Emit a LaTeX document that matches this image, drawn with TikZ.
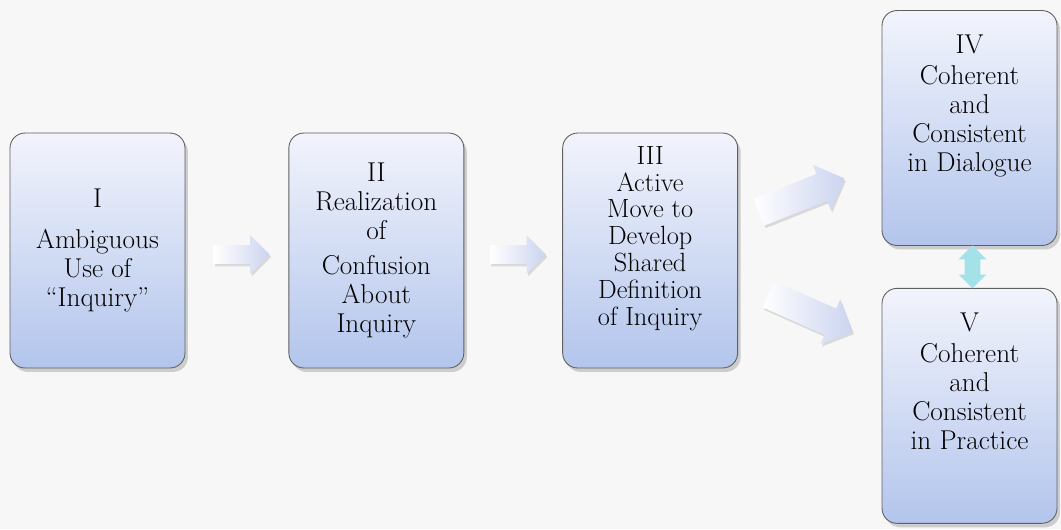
\documentclass[tikz,border=0pt]{standalone}
\usetikzlibrary{shapes.arrows, positioning, shadows, calc}
\definecolor{boxtop}{HTML}{F2F4FC}
\definecolor{boxbottom}{HTML}{B3C5EC}
\definecolor{arrowdark}{HTML}{CBD4F0}
\definecolor{linkcyan}{HTML}{A4E1E8}
\definecolor{paper}{HTML}{F7F7F7}
\begin{document}
\begin{tikzpicture}[x=0.02cm,y=-0.02cm,node distance=2cm,
    stage/.style={rectangle,rounded corners=0.3cm,draw=gray!75!black,line width=0.5pt,
        top color=boxtop,bottom color=boxbottom,minimum width=3.5cm,minimum height=4.7cm,
        align=center,font=\fontsize{15.5}{16.5}\selectfont,
        drop shadow={shadow xshift=0.6mm,shadow yshift=-0.8mm,opacity=0.35}},
    flatarrow/.style={single arrow,single arrow head extend=0.2cm,inner xsep=0pt,inner ysep=0.18cm,
        left color=white,right color=arrowdark,
        drop shadow={shadow xshift=0.3mm,shadow yshift=-0.5mm,opacity=0.25}},
    bigarrow/.style={flatarrow,inner ysep=0.28cm,minimum height=1.84cm}]

    % background
    \fill[paper] (0,0) rectangle (1061,529);

    % stages
    \node[stage] (1) at (97.5,250.5) {I\\[7pt] Ambiguous\\ Use of\\ “Inquiry”};
    \node[stage] (2) [right=2.06cm of 1] {II\\ Realization\\ of\\[3pt] Confusion\\ About\\ Inquiry};
    \node[stage,font=\fontsize{15}{15.3}\selectfont] (3) [right=1.96cm of 2]
        {III\\ Active\\ Move to\\ Develop\\ Shared\\ Definition\\ of Inquiry\\[0.05cm]};
    \node[stage] (4) at (969.5,128) {IV\\[1pt] Coherent\\ and\\ Consistent\\ in Dialogue\\[0.4cm]};
    \node[stage] (5) [below=0.84cm of 4] {V\\[1pt] Coherent\\ and\\ Consistent\\ in Practice\\[0.4cm]};

    % arrows between stages
    \node[flatarrow,minimum height=1.12cm] (12) at ($(1.east)!0.5!(2.west)+(0,4)$) {};
    \node[flatarrow,minimum height=1.12cm] (23) at ($(2.east)!0.5!(3.west)+(0,4)$) {};
    \node[bigarrow,rotate=21.6] (34) at (795,198) {};
    \node[bigarrow,rotate=-24] (35) at (804,310) {};
    \node[double arrow,double arrow head extend=0.12cm,inner xsep=0pt,inner ysep=0.15cm,
        minimum height=0.86cm,rotate=90,fill=linkcyan] (45) at ($(4.south)!0.5!(5.north)+(3,0)$) {};
\end{tikzpicture}
\end{document}
